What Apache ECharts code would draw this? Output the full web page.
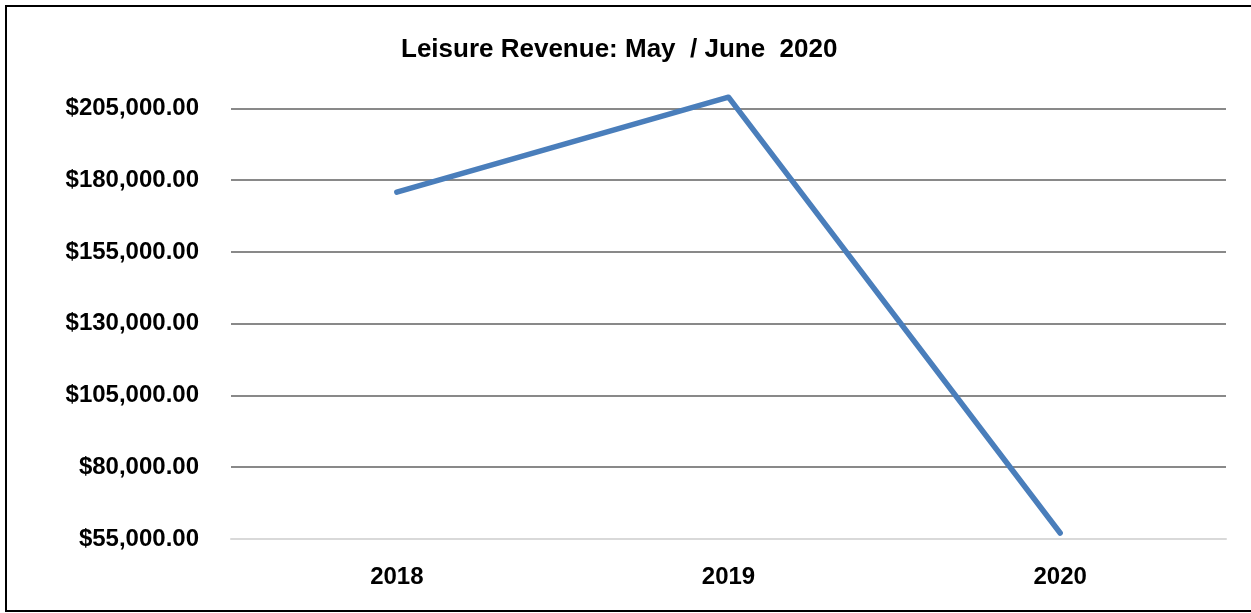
<!DOCTYPE html>
<html>
<head>
<meta charset="utf-8">
<script src="https://cdn.jsdelivr.net/npm/echarts@6/dist/echarts.min.js"></script>
<style>
    html, body { margin: 0; padding: 0; background: #fff; }
    #chart { width: 1251px; height: 613px; }
</style>
</head>
<body>
<div id="chart"></div>
<script>
var years = ['2018', '2019', '2020']
var revenue = [175800, 208900, 57100]
var yTicks = [55000, 80000, 105000, 130000, 155000, 180000, 205000]

var chart = echarts.init(document.getElementById('chart'))
var font = 'Liberation Sans'

var option = {
    animation: false,
    title: {
        text: 'Leisure Revenue: May  / June  2020',
        left: 396,
        top: 32,
        textStyle: {
            fontFamily: font,
            fontWeight: 'bold',
            fontSize: 26,
            color: '#000'
        }
    },
    graphic: [
        {
            type: 'rect',
            shape: { x: 6, y: 6, width: 1250, height: 605 },
            style: { fill: 'none', stroke: '#000', lineWidth: 2 },
            silent: true
        }
    ],
    grid: {
        left: 231,
        right: 25,
        top: 94,
        bottom: 74
    },
    xAxis: {
        type: 'category',
        data: years,
        boundaryGap: true,
        axisTick: { show: false },
        axisLine: {
            show: true,
            lineStyle: { color: '#d9d9d9', width: 2 }
        },
        axisLabel: {
            margin: 26,
            fontFamily: font,
            fontWeight: 'bold',
            fontSize: 24,
            color: '#000'
        }
    },
    yAxis: {
        type: 'value',
        min: 55000,
        max: 210000,
        axisLine: { show: false },
        axisTick: {
            show: false,
            customValues: yTicks.slice(1)
        },
        splitLine: {
            show: true,
            lineStyle: { color: '#898989', width: 2 }
        },
        axisLabel: {
            customValues: yTicks,
            margin: 32,
            fontFamily: font,
            fontWeight: 'bold',
            fontSize: 24,
            color: '#000',
            formatter: function (v) {
                return '$' + v.toLocaleString('en-US', { minimumFractionDigits: 2, maximumFractionDigits: 2 })
            }
        }
    },
    series: [
        {
            type: 'line',
            data: revenue,
            symbol: 'none',
            lineStyle: {
                color: '#4a7ebb',
                width: 5.5,
                cap: 'round',
                join: 'round'
            }
        }
    ]
}
chart.setOption(option)
</script>
</body>
</html>
